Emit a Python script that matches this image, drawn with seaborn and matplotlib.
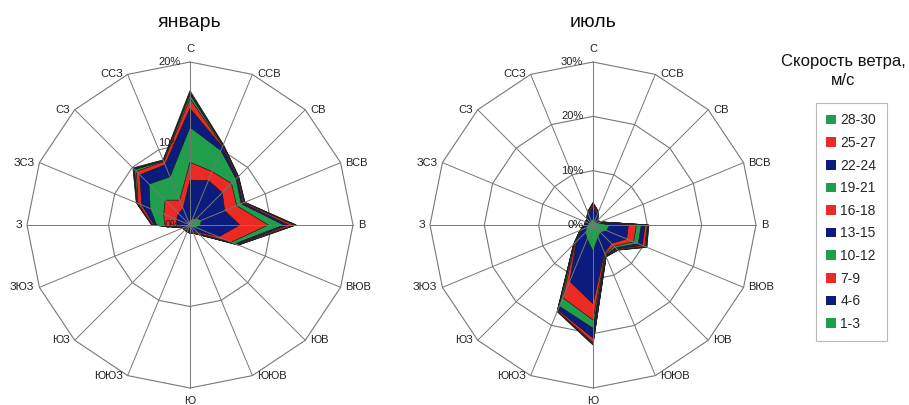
import numpy as np
import pandas as pd
import matplotlib
matplotlib.use("Agg")
import matplotlib.pyplot as plt
from matplotlib.patches import Patch
import seaborn as sns

# ---------------- data ----------------
directions = ["С", "ССВ", "СВ", "ВСВ", "В", "ВЮВ", "ЮВ", "ЮЮВ",
              "Ю", "ЮЮЗ", "ЮЗ", "ЗЮЗ", "З", "ЗСЗ", "СЗ", "ССЗ"]
speed_classes = ["1-3", "4-6", "7-9", "10-12", "13-15",
                 "16-18", "19-21", "22-24", "25-27", "28-30"]

# January, frequency (%) of each speed class per direction
jan_1_3 = [0.6, 0.8, 1.2, 1.5, 1.3, 0.8, 0.4, 0.3, 0.2, 0.2, 0.2, 0.2, 0.3, 0.3, 0.3, 0.4]
jan_4_6 = [4.9, 5.1, 4.4, 3.1, 4.8, 3.0, 0.8, 0.5, 0.6, 0.5, 0.5, 0.5, 1.3, 1.5, 1.7, 1.8]
jan_7_9 = [2.2, 1.2, 1.6, 1.6, 3.5, 1.7, 0.3, 0.15, 0.1, 0.1, 0.1, 0.1, 1.5, 1.7, 2.3, 1.1]
jan_10_12 = [4.3, 2.8, 0.8, 0.6, 1.9, 0.5, 0.1, 0.05, 0.05, 0.05, 0.05, 0.1, 1.0, 1.8, 2.8, 3.1]
jan_13_15 = [2.3, 0.45, 0.2, 0.2, 0.6, 0.2, 0.05, 0.05, 0.05, 0.05, 0.05, 0.05, 0.3, 1.1, 1.6, 1.6]
jan_16_18 = [1.2, 0.15, 0.1, 0.15, 0.6, 0.1, 0.05, 0.05, 0.0, 0.0, 0.0, 0.0, 0.2, 0.5, 0.6, 0.4]
jan_19_21 = [0.5, 0.08, 0.05, 0.05, 0.15, 0.05, 0.02, 0.0, 0.0, 0.0, 0.0, 0.0, 0.05, 0.1, 0.3, 0.1]
jan_22_24 = [0.2, 0.05, 0.05, 0.05, 0.1, 0.05, 0.01, 0.0, 0.0, 0.0, 0.0, 0.0, 0.03, 0.05, 0.15, 0.05]
jan_25_27 = [0.15, 0.04, 0.02, 0.03, 0.05, 0.02, 0.01, 0.0, 0.0, 0.0, 0.0, 0.0, 0.02, 0.05, 0.1, 0.05]
jan_28_30 = [0.15, 0.03, 0.03, 0.02, 0.05, 0.03, 0.01, 0.0, 0.0, 0.0, 0.0, 0.0, 0.02, 0.05, 0.05, 0.05]

# July
jul_1_3 = [1.2, 0.8, 0.6, 1.0, 3.1, 2.7, 2.0, 2.5, 4.8, 2.8, 2.0, 1.3, 1.0, 0.8, 0.8, 0.9]
jul_4_6 = [2.1, 1.3, 0.4, 0.3, 3.4, 4.0, 2.8, 3.0, 9.7, 8.4, 2.3, 0.9, 0.4, 0.5, 0.6, 1.3]
jul_7_9 = [0.4, 0.3, 0.1, 0.1, 1.5, 1.4, 0.7, 0.3, 3.0, 3.3, 0.3, 0.2, 0.1, 0.1, 0.1, 0.2]
jul_10_12 = [0.15, 0.1, 0.05, 0.05, 0.9, 0.9, 0.4, 0.2, 1.5, 1.7, 0.2, 0.1, 0.05, 0.05, 0.05, 0.1]
jul_13_15 = [0.1, 0.05, 0.05, 0.05, 0.7, 0.8, 0.3, 0.15, 1.8, 0.7, 0.1, 0.05, 0.05, 0.05, 0.05, 0.05]
jul_16_18 = [0.05, 0.05, 0.0, 0.0, 0.4, 0.5, 0.2, 0.1, 0.8, 0.2, 0.1, 0.05, 0.0, 0.0, 0.0, 0.05]
jul_19_21 = [0.05, 0.02, 0.0, 0.0, 0.1, 0.2, 0.05, 0.03, 0.2, 0.05, 0.03, 0.0, 0.0, 0.0, 0.0, 0.0]
jul_22_24 = [0.03, 0.02, 0.0, 0.0, 0.1, 0.1, 0.05, 0.02, 0.1, 0.05, 0.02, 0.0, 0.0, 0.0, 0.0, 0.0]
jul_25_27 = [0.02, 0.01, 0.0, 0.0, 0.05, 0.1, 0.02, 0.02, 0.1, 0.02, 0.02, 0.0, 0.0, 0.0, 0.0, 0.0]
jul_28_30 = [0.02, 0.01, 0.0, 0.0, 0.05, 0.05, 0.03, 0.03, 0.1, 0.03, 0.03, 0.0, 0.0, 0.0, 0.0, 0.0]

jan_rings = [0, 10, 20]
jul_rings = [0, 10, 20, 30]
titles = ["январь", "июль"]
legend_title = "Скорость ветра,\nм/с"

jan_layers = [jan_1_3, jan_4_6, jan_7_9, jan_10_12, jan_13_15,
              jan_16_18, jan_19_21, jan_22_24, jan_25_27, jan_28_30]
jul_layers = [jul_1_3, jul_4_6, jul_7_9, jul_10_12, jul_13_15,
              jul_16_18, jul_19_21, jul_22_24, jul_25_27, jul_28_30]

# ---------------- style ----------------
sns.set_theme(style="white")
plt.rcParams["font.family"] = ["Liberation Sans", "DejaVu Sans"]

GREEN, NAVY, RED = sns.color_palette(["#1F9F4B", "#0B1C7E", "#EC2A24"])
class_colors = [GREEN, NAVY, RED, GREEN, NAVY, RED, GREEN, NAVY, RED, GREEN]
GRID = "#777777"

W, H = 909, 405
fig = plt.figure(figsize=(W / 100, H / 100), dpi=100)


def draw_rose(ax, layers, rings, title, cx):
    df = pd.DataFrame(np.array(layers).T, index=directions, columns=speed_classes)
    cum = df.cumsum(axis=1)
    n = len(directions)
    theta = np.deg2rad(np.arange(n) * 360.0 / n)
    closed = np.append(theta, theta[0])
    rmax = rings[-1]

    ax.set_theta_zero_location("N")
    ax.set_theta_direction(-1)
    ax.set_ylim(0, rmax)
    ax.grid(False)
    ax.set_xticks([])
    ax.set_yticks([])
    ax.spines["polar"].set_visible(False)
    ax.patch.set_alpha(0)

    # polygonal rings (behind)
    for r in rings[1:]:
        ax.plot(closed, [r] * (n + 1), color=GRID, lw=0.8, zorder=1, clip_on=False)

    # stacked areas, outermost first
    for k in range(len(speed_classes) - 1, -1, -1):
        vals = cum[speed_classes[k]].to_numpy()
        ax.fill(closed, np.append(vals, vals[0]), facecolor=class_colors[k],
                edgecolor="#1c1c1c", lw=0.5, zorder=2 + (10 - k))

    # spokes (on top)
    for t in theta:
        ax.plot([t, t], [0, rmax], color=GRID, lw=0.7, zorder=20, clip_on=False)

    # ring labels
    for r in rings:
        ax.annotate(f"{r}%", xy=(0, r), xytext=(-7, 0), textcoords="offset points",
                    ha="right", va="center", fontsize=8, color="#222222", zorder=25)

    # direction labels
    for t, lab in zip(theta, directions):
        s, c = np.sin(t), np.cos(t)
        if abs(s) < 0.1:
            ha = "center"
            va = "bottom" if c > 0 else "top"
            off = (0, 6 if c > 0 else -6)
        else:
            ha = "left" if s > 0 else "right"
            va = "center"
            off = (3.5 * np.sign(s), 0)
        ax.annotate(lab, xy=(t, rmax), xytext=off, textcoords="offset points",
                    ha=ha, va=va, fontsize=8, color="#222222", annotation_clip=False)

    fig.text(cx / W, 1 - 27 / H, title, ha="center", va="baseline", fontsize=14,
             color="#111111")


R = 163
for layers, rings, title, cx in [(jan_layers, jan_rings, titles[0], 190),
                                  (jul_layers, jul_rings, titles[1], 593)]:
    cy = 225
    ax = fig.add_axes([(cx - R) / W, 1 - (cy + R) / H, 2 * R / W, 2 * R / H],
                      projection="polar")
    draw_rose(ax, layers, rings, title, cx)

# legend
handles = [Patch(facecolor=class_colors[k], edgecolor="none")
           for k in range(len(speed_classes) - 1, -1, -1)]
labels = speed_classes[::-1]
leg = fig.legend(handles, labels, loc="upper left",
                 bbox_to_anchor=(816 / W, 1 - 103 / H), borderaxespad=0,
                 frameon=True, fancybox=False, edgecolor="#a8a8a8",
                 fontsize=10, handlelength=0.7, handleheight=0.7,
                 handletextpad=0.3, labelspacing=0.62, borderpad=0.75)
leg.get_frame().set_linewidth(0.8)

fig.text(843 / W, 1 - 71 / H, legend_title, ha="center", va="center",
         fontsize=12, linespacing=1.3, multialignment="center", color="#111111")

fig.savefig("out.png", dpi=100)
